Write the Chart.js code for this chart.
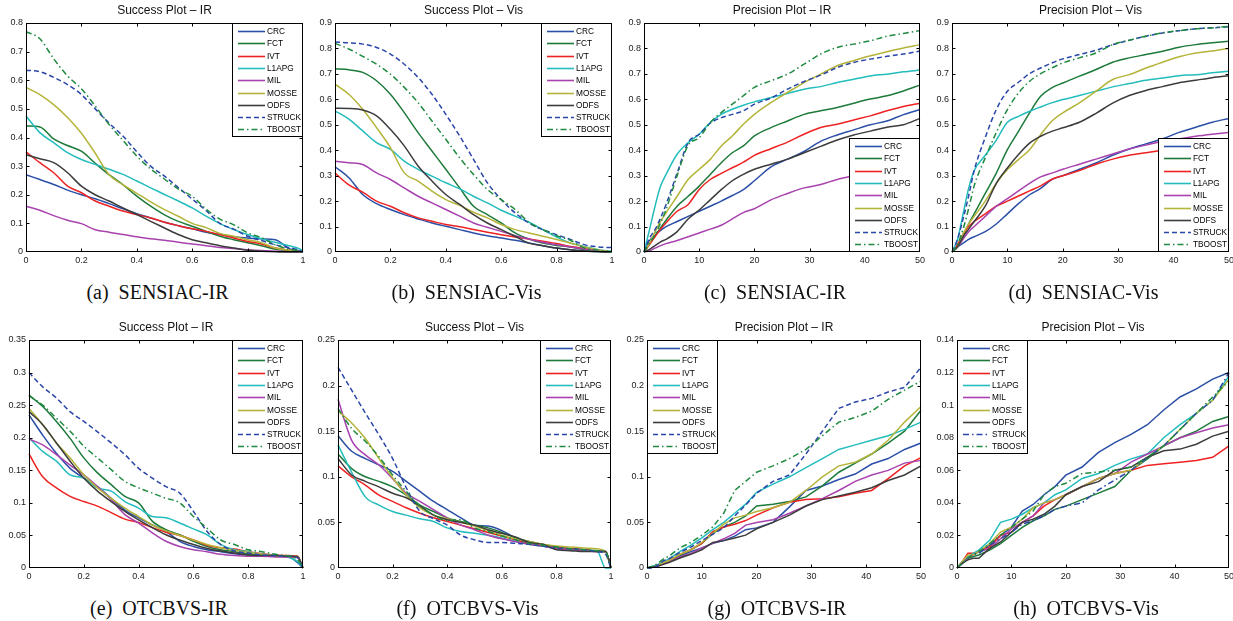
<!DOCTYPE html>
<html>
<head>
<meta charset="utf-8">
<script src="https://cdn.jsdelivr.net/npm/chart.js@4.4.0/dist/chart.umd.min.js"></script>
<style>
    html, body { margin: 0; padding: 0; background: #fff; }
    body { width: 1233px; height: 621px; position: relative; overflow: hidden; }
    canvas { position: absolute; }
    .cap {
        position: absolute; width: 300px; text-align: center; white-space: pre;
        font-family: 'Liberation Serif', 'Times New Roman', serif;
        font-size: 20px; line-height: 20px; color: #111;
    }
</style>
</head>
<body>
<script>
"use strict";

// ---- data ----
var methods = ['CRC', 'FCT', 'IVT', 'L1APG', 'MIL', 'MOSSE', 'ODFS', 'STRUCK', 'TBOOST'];
var successX = [0, 0.05, 0.1, 0.15, 0.2, 0.25, 0.3, 0.35, 0.4, 0.45, 0.5, 0.55, 0.6, 0.65, 0.7, 0.75, 0.8, 0.85, 0.9, 0.95, 0.98, 1];
var precisionX = [0, 1, 2, 3, 4, 6, 8, 10, 12, 14, 16, 18, 20, 23, 26, 29, 32, 35, 38, 41, 44, 47, 50];

var titles = ['Success Plot \u2013 IR', 'Success Plot \u2013 Vis', 'Precision Plot \u2013 IR', 'Precision Plot \u2013 Vis',
              'Success Plot \u2013 IR', 'Success Plot \u2013 Vis', 'Precision Plot \u2013 IR', 'Precision Plot \u2013 Vis'];
var captions = ['(a)  SENSIAC-IR', '(b)  SENSIAC-Vis', '(c)  SENSIAC-IR', '(d)  SENSIAC-Vis',
                '(e)  OTCBVS-IR', '(f)  OTCBVS-Vis', '(g)  OTCBVS-IR', '(h)  OTCBVS-Vis'];
var yMax = [0.8, 0.9, 0.9, 0.9, 0.35, 0.25, 0.25, 0.14];
var yStep = [0.1, 0.1, 0.1, 0.1, 0.05, 0.05, 0.05, 0.02];

// (a) SENSIAC-IR success
var aCRC    = [0.27,0.253,0.236,0.216,0.2,0.186,0.169,0.151,0.134,0.119,0.104,0.092,0.081,0.069,0.061,0.053,0.049,0.046,0.043,0.012,0.005,0];
var aFCT    = [0.44,0.437,0.395,0.372,0.352,0.31,0.27,0.235,0.195,0.16,0.13,0.107,0.09,0.072,0.055,0.043,0.032,0.022,0.01,0.005,0.002,0];
var aIVT    = [0.35,0.312,0.277,0.23,0.207,0.178,0.16,0.143,0.131,0.119,0.104,0.092,0.081,0.072,0.061,0.049,0.037,0.028,0.014,0.006,0.002,0];
var aL1APG  = [0.475,0.417,0.382,0.347,0.323,0.306,0.289,0.271,0.248,0.224,0.201,0.178,0.154,0.125,0.099,0.078,0.061,0.046,0.034,0.022,0.014,0.005];
var aMIL    = [0.16,0.146,0.127,0.111,0.099,0.078,0.069,0.061,0.053,0.046,0.041,0.034,0.028,0.022,0.016,0.012,0.008,0.005,0.003,0.001,0,0];
var aMOSSE  = [0.575,0.55,0.515,0.47,0.415,0.345,0.27,0.235,0.205,0.175,0.148,0.125,0.1,0.085,0.065,0.055,0.043,0.032,0.014,0.006,0.002,0];
var aODFS   = [0.34,0.326,0.312,0.277,0.23,0.2,0.178,0.154,0.131,0.107,0.084,0.061,0.043,0.032,0.022,0.014,0.006,0.003,0.001,0,0,0];
var aSTRUCK = [0.635,0.63,0.61,0.585,0.55,0.5,0.45,0.405,0.35,0.3,0.265,0.225,0.185,0.145,0.1,0.08,0.055,0.04,0.025,0.015,0.008,0];
var aTBOOST = [0.77,0.745,0.675,0.615,0.57,0.51,0.445,0.39,0.335,0.29,0.255,0.22,0.195,0.15,0.115,0.095,0.067,0.05,0.025,0.01,0.005,0];

// (b) SENSIAC-Vis success
var bCRC    = [0.335,0.292,0.226,0.19,0.167,0.147,0.13,0.114,0.101,0.088,0.075,0.064,0.055,0.046,0.035,0.025,0.016,0.009,0.005,0.002,0.001,0];
var bFCT    = [0.72,0.716,0.706,0.673,0.62,0.548,0.469,0.397,0.325,0.252,0.18,0.147,0.114,0.075,0.051,0.035,0.026,0.02,0.009,0.003,0.001,0];
var bIVT    = [0.31,0.264,0.235,0.2,0.18,0.154,0.134,0.121,0.108,0.099,0.088,0.078,0.068,0.059,0.051,0.042,0.033,0.022,0.014,0.006,0.002,0];
var bL1APG  = [0.555,0.522,0.476,0.43,0.403,0.357,0.325,0.298,0.272,0.248,0.219,0.193,0.164,0.141,0.117,0.088,0.059,0.035,0.022,0.009,0.005,0.003];
var bMIL    = [0.357,0.351,0.344,0.311,0.285,0.252,0.219,0.193,0.167,0.141,0.114,0.097,0.081,0.064,0.051,0.038,0.029,0.02,0.012,0.005,0.002,0];
var bMOSSE  = [0.66,0.62,0.561,0.489,0.41,0.311,0.279,0.239,0.206,0.183,0.156,0.134,0.108,0.088,0.075,0.062,0.049,0.035,0.02,0.009,0.003,0];
var bODFS   = [0.565,0.564,0.558,0.535,0.482,0.417,0.338,0.279,0.226,0.187,0.147,0.114,0.088,0.062,0.035,0.025,0.016,0.009,0.004,0.001,0,0];
var bSTRUCK = [0.825,0.822,0.817,0.804,0.778,0.738,0.686,0.62,0.541,0.456,0.364,0.272,0.206,0.154,0.114,0.088,0.068,0.049,0.029,0.02,0.018,0.018];
var bTBOOST = [0.82,0.798,0.769,0.738,0.699,0.647,0.587,0.515,0.443,0.37,0.305,0.246,0.206,0.167,0.117,0.088,0.064,0.046,0.016,0.007,0.003,0];

// (c) SENSIAC-IR precision
var cCRC    = [0,0.045,0.065,0.085,0.1,0.12,0.14,0.16,0.18,0.2,0.222,0.245,0.28,0.335,0.365,0.395,0.435,0.46,0.48,0.5,0.515,0.54,0.56];
var cFCT    = [0,0.03,0.065,0.095,0.125,0.18,0.219,0.259,0.305,0.351,0.39,0.417,0.456,0.489,0.515,0.541,0.555,0.568,0.585,0.601,0.614,0.633,0.656];
var cIVT    = [0,0.03,0.06,0.09,0.115,0.16,0.187,0.246,0.285,0.309,0.331,0.353,0.38,0.406,0.432,0.463,0.489,0.502,0.519,0.535,0.555,0.572,0.585];
var cL1APG  = [0,0.088,0.18,0.259,0.305,0.384,0.43,0.463,0.509,0.541,0.561,0.577,0.59,0.607,0.623,0.64,0.65,0.666,0.679,0.692,0.699,0.708,0.715];
var cMIL    = [0,0.005,0.015,0.025,0.033,0.045,0.06,0.075,0.09,0.105,0.13,0.155,0.17,0.205,0.23,0.252,0.265,0.285,0.3,0.32,0.335,0.35,0.365];
var cMOSSE  = [0,0.035,0.08,0.12,0.154,0.219,0.285,0.325,0.364,0.417,0.456,0.502,0.541,0.587,0.627,0.666,0.699,0.732,0.752,0.771,0.787,0.802,0.815];
var cODFS   = [0,0.01,0.025,0.04,0.05,0.08,0.13,0.165,0.205,0.245,0.28,0.305,0.325,0.345,0.365,0.39,0.415,0.44,0.46,0.475,0.49,0.5,0.525];
var cSTRUCK = [0,0.055,0.088,0.134,0.187,0.31,0.43,0.463,0.506,0.528,0.541,0.555,0.581,0.605,0.64,0.67,0.695,0.725,0.745,0.758,0.769,0.778,0.79];
var cTBOOST = [0,0.035,0.068,0.114,0.167,0.3,0.42,0.449,0.509,0.548,0.581,0.614,0.647,0.673,0.699,0.738,0.778,0.804,0.817,0.83,0.848,0.859,0.87];

// (d) SENSIAC-Vis precision
var dCRC    = [0,0.02,0.035,0.05,0.06,0.08,0.11,0.15,0.19,0.225,0.25,0.285,0.3,0.325,0.35,0.38,0.405,0.425,0.445,0.47,0.49,0.51,0.525];
var dFCT    = [0,0.02,0.06,0.11,0.15,0.23,0.31,0.402,0.474,0.547,0.612,0.645,0.664,0.691,0.717,0.746,0.763,0.776,0.789,0.805,0.815,0.822,0.828];
var dIVT    = [0,0.03,0.07,0.1,0.12,0.15,0.18,0.2,0.22,0.24,0.26,0.285,0.3,0.32,0.345,0.365,0.38,0.39,0.4,0.41,0.42,0.43,0.44];
var dL1APG  = [0,0.05,0.15,0.25,0.32,0.38,0.44,0.51,0.533,0.553,0.57,0.586,0.599,0.615,0.632,0.649,0.662,0.675,0.684,0.693,0.697,0.704,0.71];
var dMIL    = [0,0.02,0.05,0.08,0.1,0.14,0.18,0.21,0.24,0.27,0.295,0.31,0.325,0.345,0.365,0.385,0.405,0.42,0.435,0.445,0.455,0.463,0.47];
var dMOSSE  = [0,0.02,0.07,0.11,0.14,0.2,0.27,0.324,0.363,0.402,0.461,0.514,0.547,0.586,0.632,0.678,0.697,0.723,0.746,0.767,0.782,0.79,0.8];
var dODFS   = [0,0.02,0.06,0.09,0.12,0.18,0.27,0.33,0.383,0.428,0.455,0.474,0.488,0.51,0.545,0.585,0.615,0.635,0.65,0.665,0.675,0.685,0.693];
var dSTRUCK = [0,0.05,0.13,0.22,0.32,0.45,0.56,0.632,0.667,0.701,0.723,0.743,0.759,0.776,0.793,0.815,0.832,0.848,0.861,0.87,0.877,0.881,0.885];
var dTBOOST = [0,0.03,0.09,0.17,0.26,0.37,0.47,0.56,0.625,0.671,0.701,0.723,0.743,0.763,0.782,0.815,0.832,0.848,0.861,0.87,0.877,0.881,0.887];

// (e) OTCBVS-IR success
var eCRC    = [0.235,0.204,0.176,0.153,0.138,0.125,0.107,0.089,0.077,0.066,0.056,0.041,0.033,0.028,0.025,0.022,0.02,0.019,0.018,0.017,0.008,0];
var eFCT    = [0.265,0.248,0.225,0.199,0.169,0.146,0.128,0.11,0.1,0.072,0.059,0.051,0.041,0.033,0.028,0.025,0.022,0.02,0.019,0.018,0.018,0];
var eIVT    = [0.175,0.14,0.123,0.11,0.102,0.095,0.085,0.075,0.07,0.062,0.055,0.05,0.043,0.035,0.031,0.029,0.025,0.022,0.02,0.019,0.018,0];
var eL1APG  = [0.2,0.179,0.164,0.143,0.138,0.123,0.118,0.102,0.092,0.079,0.077,0.069,0.06,0.051,0.036,0.028,0.025,0.021,0.019,0.016,0.01,0];
var eMIL    = [0.198,0.189,0.174,0.158,0.143,0.125,0.105,0.082,0.069,0.054,0.041,0.033,0.028,0.025,0.021,0.019,0.018,0.018,0.017,0.017,0.016,0];
var eMOSSE  = [0.245,0.22,0.192,0.169,0.143,0.123,0.107,0.092,0.079,0.066,0.057,0.05,0.043,0.036,0.031,0.027,0.024,0.021,0.019,0.018,0.017,0];
var eODFS   = [0.24,0.22,0.192,0.164,0.138,0.118,0.102,0.087,0.074,0.062,0.051,0.043,0.036,0.03,0.026,0.023,0.02,0.019,0.019,0.018,0.017,0];
var eSTRUCK = [0.3,0.278,0.261,0.24,0.225,0.209,0.192,0.174,0.153,0.138,0.125,0.115,0.087,0.056,0.036,0.026,0.023,0.02,0.019,0.018,0.016,0];
var eTBOOST = [0.265,0.25,0.23,0.21,0.187,0.169,0.151,0.133,0.123,0.115,0.107,0.1,0.079,0.061,0.043,0.036,0.028,0.025,0.021,0.018,0.013,0];

// (f) OTCBVS-Vis success
var fCRC    = [0.145,0.128,0.12,0.113,0.106,0.095,0.084,0.073,0.064,0.055,0.047,0.046,0.041,0.033,0.027,0.024,0.022,0.021,0.02,0.018,0.018,0];
var fFCT    = [0.125,0.109,0.1,0.095,0.089,0.08,0.069,0.062,0.055,0.051,0.047,0.044,0.039,0.033,0.029,0.026,0.023,0.021,0.02,0.019,0.018,0];
var fIVT    = [0.112,0.1,0.091,0.08,0.073,0.066,0.06,0.055,0.051,0.047,0.043,0.039,0.035,0.031,0.027,0.025,0.023,0.021,0.02,0.018,0.018,0];
var fL1APG  = [0.135,0.105,0.078,0.069,0.062,0.058,0.054,0.051,0.044,0.04,0.038,0.036,0.033,0.029,0.026,0.024,0.021,0.02,0.019,0.018,0,0];
var fMIL    = [0.185,0.14,0.124,0.113,0.098,0.082,0.073,0.064,0.055,0.047,0.042,0.036,0.032,0.029,0.026,0.024,0.021,0.02,0.019,0.018,0.018,0];
var fMOSSE  = [0.172,0.159,0.142,0.12,0.099,0.08,0.066,0.058,0.054,0.05,0.046,0.041,0.036,0.032,0.029,0.026,0.024,0.023,0.022,0.021,0.018,0];
var fODFS   = [0.12,0.102,0.095,0.089,0.082,0.077,0.068,0.058,0.053,0.05,0.047,0.042,0.038,0.034,0.028,0.026,0.02,0.019,0.018,0.018,0.018,0];
var fSTRUCK = [0.22,0.195,0.17,0.146,0.12,0.088,0.062,0.054,0.047,0.036,0.031,0.028,0.028,0.027,0.026,0.024,0.022,0.021,0.02,0.018,0.015,0];
var fTBOOST = [0.175,0.153,0.139,0.122,0.102,0.084,0.068,0.058,0.052,0.053,0.044,0.04,0.035,0.031,0.027,0.025,0.023,0.021,0.02,0.019,0.018,0];

// (g) OTCBVS-IR precision
var gCRC    = [0,0.001,0.003,0.005,0.008,0.013,0.018,0.022,0.027,0.03,0.035,0.042,0.044,0.05,0.067,0.085,0.09,0.097,0.103,0.114,0.12,0.13,0.137];
var gFCT    = [0,0.001,0.003,0.005,0.008,0.014,0.02,0.027,0.038,0.045,0.05,0.057,0.068,0.07,0.073,0.078,0.09,0.105,0.115,0.125,0.137,0.15,0.173];
var gIVT    = [0,0.001,0.003,0.005,0.008,0.015,0.02,0.027,0.04,0.045,0.048,0.052,0.058,0.066,0.072,0.075,0.076,0.078,0.082,0.085,0.098,0.112,0.121];
var gL1APG  = [0,0.002,0.004,0.007,0.01,0.018,0.025,0.033,0.042,0.05,0.06,0.07,0.083,0.092,0.1,0.11,0.12,0.13,0.135,0.14,0.145,0.152,0.16];
var gMIL    = [0,0.001,0.003,0.005,0.007,0.012,0.016,0.022,0.027,0.032,0.038,0.047,0.05,0.053,0.06,0.068,0.076,0.085,0.095,0.102,0.107,0.115,0.118];
var gMOSSE  = [0,0.001,0.003,0.006,0.008,0.015,0.02,0.028,0.038,0.048,0.055,0.058,0.062,0.066,0.072,0.085,0.1,0.112,0.116,0.125,0.14,0.16,0.177];
var gODFS   = [0,0.001,0.002,0.004,0.006,0.011,0.015,0.02,0.028,0.03,0.033,0.036,0.043,0.05,0.058,0.068,0.075,0.079,0.083,0.088,0.096,0.102,0.112];
var gSTRUCK = [0,0,0.003,0.008,0.01,0.017,0.023,0.03,0.037,0.044,0.057,0.069,0.082,0.095,0.102,0.125,0.15,0.175,0.182,0.186,0.193,0.198,0.22];
var gTBOOST = [0,0.002,0.005,0.01,0.013,0.022,0.028,0.036,0.045,0.06,0.085,0.095,0.105,0.112,0.12,0.13,0.145,0.16,0.165,0.172,0.185,0.195,0.205];

// (h) OTCBVS-Vis precision
var hCRC    = [0,0.003,0.006,0.008,0.01,0.014,0.02,0.025,0.035,0.039,0.045,0.05,0.057,0.062,0.071,0.077,0.082,0.088,0.097,0.105,0.11,0.116,0.12];
var hFCT    = [0,0.003,0.006,0.007,0.008,0.011,0.015,0.02,0.025,0.029,0.032,0.036,0.038,0.042,0.046,0.05,0.06,0.067,0.075,0.08,0.084,0.09,0.093];
var hIVT    = [0,0.004,0.009,0.009,0.01,0.013,0.02,0.022,0.028,0.032,0.038,0.042,0.045,0.05,0.055,0.058,0.06,0.063,0.064,0.065,0.066,0.068,0.075];
var hL1APG  = [0,0.004,0.007,0.009,0.011,0.017,0.028,0.03,0.033,0.037,0.04,0.045,0.048,0.055,0.058,0.063,0.067,0.07,0.08,0.088,0.095,0.103,0.118];
var hMIL    = [0,0.003,0.006,0.008,0.01,0.012,0.018,0.024,0.028,0.032,0.04,0.042,0.045,0.05,0.055,0.058,0.065,0.07,0.075,0.08,0.083,0.086,0.088];
var hMOSSE  = [0,0.004,0.008,0.008,0.01,0.015,0.022,0.025,0.03,0.037,0.04,0.042,0.045,0.05,0.055,0.058,0.06,0.068,0.075,0.085,0.095,0.103,0.116];
var hODFS   = [0,0.003,0.005,0.006,0.006,0.012,0.016,0.022,0.028,0.03,0.033,0.038,0.045,0.05,0.053,0.06,0.062,0.068,0.072,0.073,0.076,0.081,0.084];
var hSTRUCK = [0,0.003,0.006,0.008,0.009,0.014,0.018,0.022,0.027,0.029,0.032,0.036,0.038,0.04,0.048,0.054,0.06,0.068,0.075,0.085,0.095,0.103,0.12];
var hTBOOST = [0,0.003,0.006,0.008,0.01,0.015,0.02,0.025,0.03,0.035,0.045,0.05,0.052,0.058,0.059,0.06,0.062,0.068,0.075,0.085,0.095,0.105,0.115];

var panelSeries = [
    [aCRC, aFCT, aIVT, aL1APG, aMIL, aMOSSE, aODFS, aSTRUCK, aTBOOST],
    [bCRC, bFCT, bIVT, bL1APG, bMIL, bMOSSE, bODFS, bSTRUCK, bTBOOST],
    [cCRC, cFCT, cIVT, cL1APG, cMIL, cMOSSE, cODFS, cSTRUCK, cTBOOST],
    [dCRC, dFCT, dIVT, dL1APG, dMIL, dMOSSE, dODFS, dSTRUCK, dTBOOST],
    [eCRC, eFCT, eIVT, eL1APG, eMIL, eMOSSE, eODFS, eSTRUCK, eTBOOST],
    [fCRC, fFCT, fIVT, fL1APG, fMIL, fMOSSE, fODFS, fSTRUCK, fTBOOST],
    [gCRC, gFCT, gIVT, gL1APG, gMIL, gMOSSE, gODFS, gSTRUCK, gTBOOST],
    [hCRC, hFCT, hIVT, hL1APG, hMIL, hMOSSE, hODFS, hSTRUCK, hTBOOST]
];

// ---- styles / layout ----
var colors = ['#2b4fa6', '#1d7a3b', '#ee2222', '#24bcbc', '#a842ae', '#b4b43a', '#3c3c3c', '#2a46a8', '#1f8a40'];
var dashed = [5, 3];
var dashDot = [6, 3, 1.5, 3];

// plot-area boxes in page pixels + legend corner
var boxes = [
    { l: 26,  t: 23,  r: 303,  b: 252, leg: 'tr', kind: 's' },
    { l: 335, t: 23,  r: 612,  b: 252, leg: 'tr', kind: 's' },
    { l: 644, t: 23,  r: 920,  b: 252, leg: 'br', kind: 'p' },
    { l: 952, t: 23,  r: 1229, b: 252, leg: 'br', kind: 'p' },
    { l: 29,  t: 340, r: 303,  b: 568, leg: 'tr', kind: 's' },
    { l: 338, t: 340, r: 611,  b: 568, leg: 'tr', kind: 's' },
    { l: 647, t: 340, r: 921,  b: 568, leg: 'tl', kind: 'p' },
    { l: 957, t: 340, r: 1229, b: 568, leg: 'tl', kind: 'p' }
];

Chart.defaults.font.family = "'Liberation Sans', Arial, Helvetica, sans-serif";
Chart.defaults.color = '#222';

// frame with inward ticks, then the boxed legend on top
var matlabFrame = {
    id: 'matlabFrame',
    afterDatasetsDraw: function (chart, args, opts) {
        var ctx = chart.ctx, a = chart.chartArea;
        var L = Math.round(a.left) + 0.5, T = Math.round(a.top) + 0.5;
        var R = Math.round(a.right) - 0.5, B = Math.round(a.bottom) - 0.5;
        ctx.save();
        ctx.setLineDash([]);
        ctx.strokeStyle = '#000';
        ctx.lineWidth = 1;
        ctx.strokeRect(L, T, R - L, B - T);

        ctx.beginPath();
        chart.scales.x.ticks.forEach(function (t) {
            var px = Math.round(chart.scales.x.getPixelForValue(t.value)) + 0.5;
            if (px <= L + 1 || px >= R - 1) return;
            ctx.moveTo(px, B); ctx.lineTo(px, B - 3);
            ctx.moveTo(px, T); ctx.lineTo(px, T + 3);
        });
        chart.scales.y.ticks.forEach(function (t) {
            var py = Math.round(chart.scales.y.getPixelForValue(t.value)) + 0.5;
            if (py <= T + 1 || py >= B - 1) return;
            ctx.moveTo(L, py); ctx.lineTo(L + 3, py);
            ctx.moveTo(R, py); ctx.lineTo(R - 3, py);
        });
        ctx.stroke();

        // legend box
        var w = 71, h = 114;
        var x = opts.corner[1] === 'r' ? Math.round(a.right) - w : Math.round(a.left);
        var y = opts.corner[0] === 't' ? Math.round(a.top) : Math.round(a.bottom) - h;
        ctx.fillStyle = '#fff';
        ctx.fillRect(x, y, w, h);
        ctx.strokeStyle = '#000';
        ctx.lineWidth = 1;
        ctx.strokeRect(x + 0.5, y + 0.5, w - 1, h - 1);

        ctx.font = "8.3px 'Liberation Sans', Arial, sans-serif";
        ctx.textBaseline = 'middle';
        ctx.textAlign = 'left';
        chart.data.datasets.forEach(function (ds, i) {
            var yy = Math.round(y + 8 + i * 12.3) + 0.5;
            ctx.beginPath();
            ctx.setLineDash(ds.borderDash || []);
            ctx.strokeStyle = ds.borderColor;
            ctx.lineWidth = 1.6;
            ctx.moveTo(x + 6, yy);
            ctx.lineTo(x + 33, yy);
            ctx.stroke();
            ctx.setLineDash([]);
            ctx.fillStyle = '#000';
            ctx.fillText(ds.label, x + 35, yy + 0.5);
        });
        ctx.restore();
    }
};

function fmt(v) {
    return String(+(+v).toFixed(3));
}

boxes.forEach(function (bx, p) {
    var cv = document.createElement('canvas');
    var W = bx.r - bx.l + 38, H = bx.b - bx.t + 36;
    cv.width = W; cv.height = H;
    cv.style.left = (bx.l - 30) + 'px';
    cv.style.top = (bx.t - 20) + 'px';
    cv.style.width = W + 'px';
    cv.style.height = H + 'px';
    document.body.appendChild(cv);

    var xs = bx.kind === 's' ? successX : precisionX;
    var datasets = methods.map(function (m, i) {
        var ys = panelSeries[p][i];
        var dash = [];
        if (m === 'STRUCK') dash = p === 7 ? dashDot : dashed;
        if (m === 'TBOOST') dash = dashDot;
        return {
            label: m,
            data: xs.map(function (x, k) { return { x: x, y: ys[k] }; }),
            borderColor: colors[i],
            borderWidth: 1.5,
            borderDash: dash,
            pointRadius: 0,
            fill: false,
            cubicInterpolationMode: p < 6 ? 'monotone' : 'default',
            tension: 0,
            clip: 1,
            order: methods.length - 1 - i
        };
    });

    new Chart(cv, {
        type: 'line',
        data: { datasets: datasets },
        options: {
            responsive: false,
            animation: false,
            devicePixelRatio: 1,
            layout: { padding: { left: 0, right: 8, top: 0, bottom: 0 } },
            plugins: {
                legend: { display: false },
                tooltip: { enabled: false },
                title: {
                    display: true,
                    text: titles[p],
                    fullSize: false,
                    color: '#111',
                    font: { size: 12, weight: 'normal', lineHeight: '12px' },
                    padding: { top: 2, bottom: 6 }
                },
                matlabFrame: { corner: bx.leg }
            },
            scales: {
                x: {
                    type: 'linear',
                    min: 0,
                    max: bx.kind === 's' ? 1 : 50,
                    grid: { display: false, drawTicks: false },
                    border: { display: false },
                    ticks: {
                        stepSize: bx.kind === 's' ? 0.2 : 10,
                        padding: 3,
                        color: '#222',
                        font: { size: 9 },
                        maxRotation: 0,
                        callback: fmt
                    },
                    afterFit: function (s) { s.height = 16; }
                },
                y: {
                    min: 0,
                    max: yMax[p],
                    grid: { display: false, drawTicks: false },
                    border: { display: false },
                    ticks: {
                        stepSize: yStep[p],
                        padding: 3,
                        color: '#222',
                        font: { size: 9 },
                        callback: fmt
                    },
                    afterFit: function (s) { s.width = 30; }
                }
            }
        },
        plugins: [matlabFrame]
    });

    var cap = document.createElement('div');
    cap.className = 'cap';
    cap.textContent = captions[p];
    cap.style.left = ((bx.l + bx.r) / 2 - 7 - 150) + 'px';
    cap.style.top = (p < 4 ? 282 : 598) + 'px';
    document.body.appendChild(cap);
});
</script>
</body>
</html>
